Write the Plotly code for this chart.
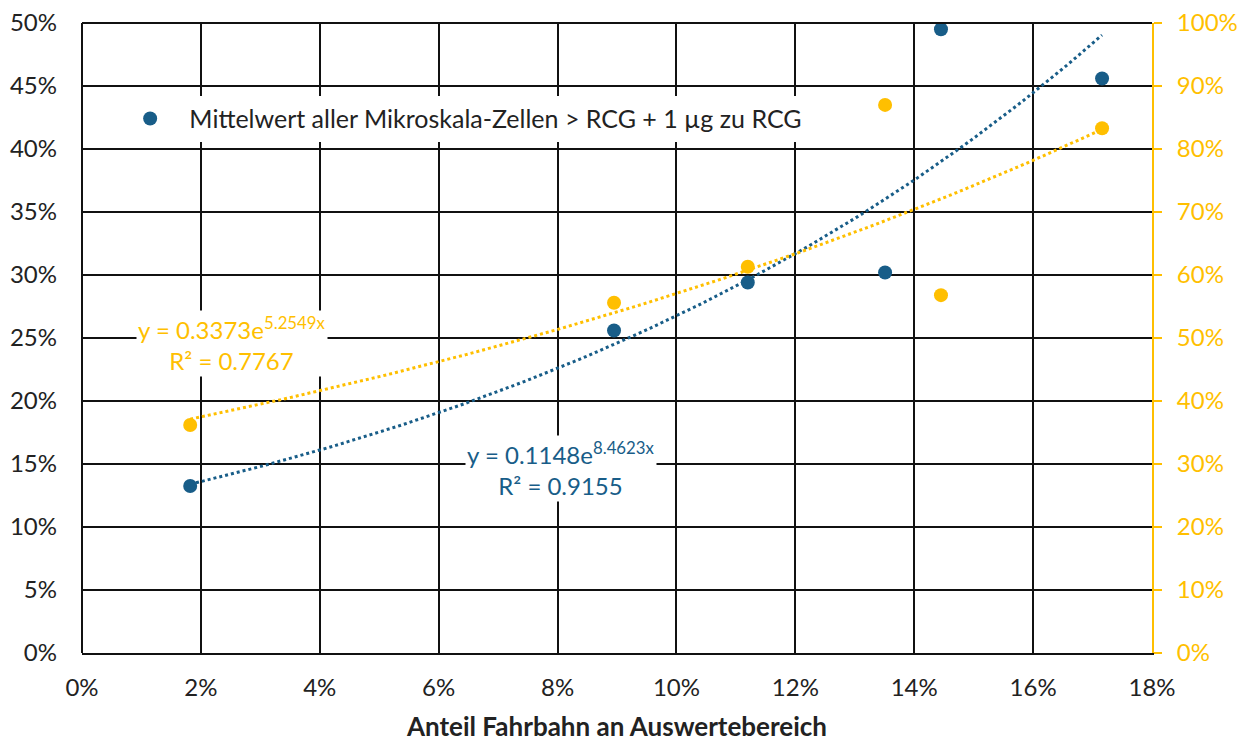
import numpy as np
import plotly.graph_objects as go

x_share = [0.0182, 0.0895, 0.1120, 0.1351, 0.1445, 0.1716]
blue_vals = [0.1325, 0.2560, 0.2940, 0.3020, 0.4950, 0.4560]
gold_vals = [0.362, 0.556, 0.613, 0.870, 0.568, 0.833]

blue_fit = (0.1148, 8.4623)
gold_fit = (0.3373, 5.2549)

BLUE = "#185d88"
GOLD = "#ffbf00"
FONT = "Lato"

xs = np.linspace(min(x_share), max(x_share), 120)

fig = go.Figure()
fig.add_trace(go.Scatter(x=xs, y=blue_fit[0] * np.exp(blue_fit[1] * xs), mode="lines",
                         line=dict(color=BLUE, width=3, dash="dot"), showlegend=False, hoverinfo="skip"))
fig.add_trace(go.Scatter(x=xs, y=gold_fit[0] * np.exp(gold_fit[1] * xs), mode="lines", yaxis="y2",
                         line=dict(color=GOLD, width=3, dash="dot"), showlegend=False, hoverinfo="skip"))
fig.add_trace(go.Scatter(x=x_share, y=gold_vals, mode="markers", yaxis="y2",
                         marker=dict(color=GOLD, size=14), showlegend=False))
fig.add_trace(go.Scatter(x=x_share, y=blue_vals, mode="markers",
                         marker=dict(color=BLUE, size=14),
                         name="   Mittelwert aller Mikroskala-Zellen > RCG + 1 µg zu RCG"))

fig.add_annotation(x=0.0252, y=0.2455, xref="x", yref="y", showarrow=False,
                   text="y = 0.3373e<sup>5.2549x</sup><br>R² = 0.7767",
                   font=dict(color=GOLD, size=24, family=FONT), bgcolor="white", align="center")
fig.add_annotation(x=0.0805, y=0.1465, xref="x", yref="y", showarrow=False,
                   text="y = 0.1148e<sup>8.4623x</sup><br>R² = 0.9155",
                   font=dict(color=BLUE, size=24, family=FONT), bgcolor="white", align="center")

fig.update_layout(
    width=1253, height=744,
    margin=dict(l=74, r=109, t=15, b=99),
    plot_bgcolor="white", paper_bgcolor="white",
    font=dict(family=FONT, size=24, color="#222"),
    xaxis=dict(range=[0, 0.18], dtick=0.02, tickformat=".0%", showgrid=True, automargin=False,
               gridcolor="#111", gridwidth=2, zeroline=False, ticklabeloverflow="allow",
               showline=True, linecolor="#111", linewidth=2, mirror=False,
               title=dict(text="<b>Anteil Fahrbahn an Auswertebereich</b>", font=dict(size=26), standoff=18),
               ticks="", ticklabelstandoff=12),
    yaxis=dict(range=[0, 0.5], dtick=0.05, tickformat=".0%", showgrid=True, automargin=False,
               gridcolor="#111", gridwidth=2, zeroline=False, showline=False,
               ticklabeloverflow="allow", ticklabelstandoff=24),
    yaxis2=dict(range=[0, 1.0], dtick=0.1, tickformat=".0%", overlaying="y", side="right", automargin=False,
                showgrid=False, zeroline=False, showline=True, linecolor=GOLD, linewidth=2,
                ticks="outside", tickcolor=GOLD, ticklen=8, tickwidth=2, ticklabelstandoff=10,
                ticklabeloverflow="allow", tickfont=dict(color=GOLD, size=24)),
    legend=dict(x=0.045, y=0.848, xanchor="left", yanchor="middle", bgcolor="white",
                font=dict(size=25), borderwidth=0, itemwidth=30),
    shapes=[dict(type="line", xref="paper", yref="paper", x0=0, x1=1, y0=1, y1=1,
                 line=dict(color="#111", width=2)),
            dict(type="line", xref="paper", yref="paper", x0=0, x1=0, y0=0, y1=1,
                 line=dict(color="#111", width=2))],
)

fig.write_html("out.html")
